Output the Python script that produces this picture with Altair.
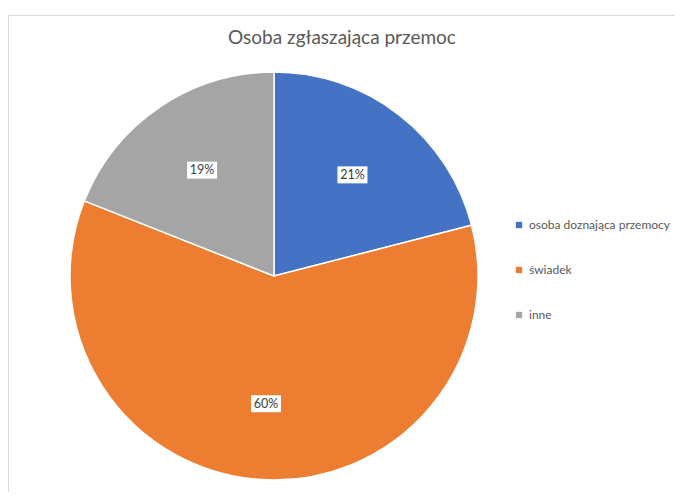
import altair as alt
import pandas as pd

categories = ["osoba doznająca przemocy", "świadek", "inne"]
values = [21, 60, 19]
labels = ["21%", "60%", "19%"]
colors = ["#4472C4", "#ED7D31", "#A5A5A5"]
title_text = ["Osoba zgłaszająca przemoc"]

df = pd.DataFrame({"cat": categories, "val": values, "lab": labels, "ord": list(range(len(values)))})

W, H = 667, 484
CX, CY, R, LR = 266, 268, 204, 128
FONT = "Lato"

border = alt.Chart(pd.DataFrame({"a": [0]})).mark_rect(
    fillOpacity=0, stroke="#d9d9d9", strokeWidth=1
).encode(x=alt.value(0.5), x2=alt.value(900), y=alt.value(7.5), y2=alt.value(900))

title = alt.Chart(pd.DataFrame({"t": title_text})).mark_text(
    fontSize=19, color="#595959", font=FONT, baseline="middle", align="center"
).encode(text="t:N", x=alt.value(334), y=alt.value(30))

pie = alt.Chart(df).mark_arc(outerRadius=R, stroke="white", strokeWidth=1.5).encode(
    theta=alt.Theta("val:Q", stack=True),
    color=alt.Color(
        "cat:N",
        sort=categories,
        scale=alt.Scale(domain=categories, range=colors),
        legend=alt.Legend(
            title=None, orient="none", legendX=505, legendY=211, symbolType="square",
            symbolSize=40, symbolStrokeWidth=0, labelFontSize=12, labelColor="#595959",
            labelFont=FONT, rowPadding=33, padding=0, labelOffset=4, labelLimit=200,
        ),
    ),
    order=alt.Order("ord:Q"),
    x=alt.value(CX),
    y=alt.value(CY),
)

lab = alt.Chart(df).transform_window(
    cum="sum(val)", sort=[alt.SortField("ord")], frame=[None, 0]
).transform_joinaggregate(total="sum(val)").transform_calculate(
    mid="(datum.cum - datum.val/2)/datum.total*2*PI",
    px=f"{CX} + {LR}*sin(datum.mid)",
    py=f"{CY} - {LR}*cos(datum.mid)",
).transform_calculate(
    px1="datum.px-15", px2="datum.px+15", py1="datum.py-8.5", py2="datum.py+8.5"
)

boxes = lab.mark_rect(fill="white").encode(
    x=alt.X("px1:Q", scale=None), x2="px2:Q",
    y=alt.Y("py1:Q", scale=None), y2="py2:Q",
)
texts = lab.mark_text(fontSize=12.5, color="#404040", font=FONT, baseline="middle", align="center").encode(
    x=alt.X("px:Q", scale=None), y=alt.Y("py:Q", scale=None), text="lab:N"
)

chart = alt.layer(border, title, pie, boxes, texts).properties(
    width=W, height=H, autosize=alt.AutoSizeParams(type="none"), padding=0
).configure_view(stroke=None)

chart.save("out.html", embed_options={"renderer": "svg", "actions": False})
